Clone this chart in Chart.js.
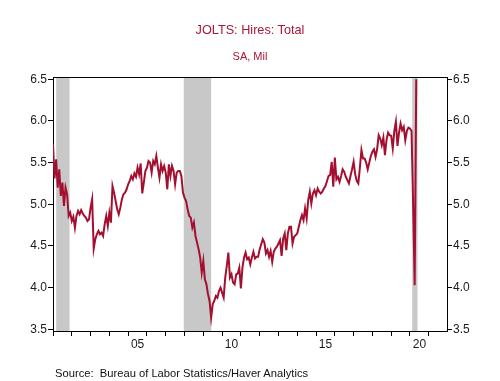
<!DOCTYPE html>
<html><head><meta charset="utf-8">
<script src="https://cdn.jsdelivr.net/npm/chart.js@4/dist/chart.umd.min.js"></script>
<style>
html,body{margin:0;padding:0;background:#fff;}
#wrap{position:relative;width:500px;height:381px;overflow:hidden;}
canvas{position:absolute;left:0;top:0;}
.t{position:absolute;font-family:"Liberation Sans",Arial,sans-serif;white-space:nowrap;}
</style></head><body>
<div id="wrap">
<canvas id="c" width="500" height="381"></canvas>
<div class="t" style="left:0;width:500px;text-align:center;top:23px;font-size:12.7px;color:#ab1636;">JOLTS: Hires: Total</div>
<div class="t" style="left:0;width:500px;text-align:center;top:50px;font-size:11px;color:#ab1636;">SA, Mil</div>
<div class="t" style="left:55px;top:367px;font-size:11.2px;color:#111;">Source:&nbsp; Bureau of Labor Statistics/Haver Analytics</div>
</div>
<script>
// Monthly values, Jan 2001 .. May 2020 (millions)
const startYear = 2001;
const hires2001 = [5.72,5.31,5.54,5.20,5.42,5.10,5.26,4.98,5.20,5.12,4.86,4.90];
const hires2002 = [4.80,4.85,4.72,4.86,4.92,4.88,4.93,4.89,4.86,4.84,4.80,4.82];
const hires2003 = [4.96,5.06,4.47,4.58,4.64,4.68,4.64,4.66,4.62,4.76,4.86,4.74];
const hires2004 = [4.90,4.78,5.22,5.14,5.04,4.94,4.88,4.96,5.06,5.12,5.14,5.18];
const hires2005 = [5.24,5.28,5.34,5.30,5.37,5.33,5.44,5.36,5.49,5.13,5.26,5.40];
const hires2006 = [5.44,5.52,5.50,5.38,5.52,5.48,5.58,5.44,5.32,5.48,5.40,5.46];
const hires2007 = [5.38,5.18,5.48,5.34,5.46,5.40,5.24,5.38,5.40,5.40,5.34,5.14];
const hires2008 = [5.08,5.04,4.94,4.86,4.84,4.72,4.78,4.62,4.54,4.46,4.36,4.18];
const hires2009 = [4.32,4.10,4.04,3.92,3.84,3.64,3.80,3.84,3.90,3.88,3.96,4.00];
const hires2010 = [3.94,3.88,4.12,4.26,4.42,4.12,4.16,4.06,4.04,4.16,4.17,4.24];
const hires2011 = [3.99,4.24,4.36,4.42,4.34,4.36,4.28,4.36,4.43,4.35,4.37,4.37];
const hires2012 = [4.46,4.52,4.58,4.54,4.41,4.45,4.37,4.44,4.31,4.43,4.47,4.49];
const hires2013 = [4.53,4.57,4.38,4.59,4.65,4.45,4.65,4.73,4.73,4.53,4.61,4.63];
const hires2014 = [4.65,4.73,4.81,4.87,4.81,4.95,4.83,5.05,5.15,5.01,5.13,5.17];
const hires2015 = [5.11,5.19,5.15,5.13,5.15,5.19,5.22,5.28,5.34,5.35,5.51,5.21];
const hires2016 = [5.56,5.30,5.33,5.27,5.34,5.42,5.39,5.33,5.29,5.25,5.34,5.42];
const hires2017 = [5.51,5.36,5.28,5.25,5.44,5.65,5.55,5.55,5.50,5.42,5.50,5.58];
const hires2018 = [5.63,5.66,5.57,5.66,5.83,5.79,5.71,5.80,5.59,5.77,5.86,5.83];
const hires2019 = [5.82,5.67,5.88,5.99,5.70,5.86,5.97,5.89,5.93,5.77,5.88,5.92];
const hires2020 = [5.91,5.88,5.00,4.03,6.50];

// Recession periods (decimal years)
const recessionStarts = [2001.17, 2007.96, 2020.12];
const recessionEnds   = [2001.88, 2009.42, 2020.40];

// Axis ticks and labels
const yTicks = [3.5, 4.0, 4.5, 5.0, 5.5, 6.0, 6.5];
const xTickYears = [2001,2002,2003,2004,2005,2006,2007,2008,2009,2010,2011,2012,2013,2014,2015,2016,2017,2018,2019,2020,2021];
const xLabelYears = [2005, 2010, 2015, 2020];
const xLabelTexts = ['05', '10', '15', '20'];

const series = [].concat(hires2001,hires2002,hires2003,hires2004,hires2005,hires2006,hires2007,
  hires2008,hires2009,hires2010,hires2011,hires2012,hires2013,hires2014,hires2015,hires2016,
  hires2017,hires2018,hires2019,hires2020);
const points = series.map((v, i) => ({x: startYear + i / 12, y: v}));

const FONT = '"Liberation Sans", Arial, sans-serif';
const AX = '#000';

const shading = {
  id: 'shading',
  beforeDatasetsDraw(chart) {
    const {ctx, chartArea, scales} = chart;
    ctx.save();
    ctx.fillStyle = '#c8c8c8';
    for (let i = 0; i < recessionStarts.length; i++) {
      const a = scales.x.getPixelForValue(recessionStarts[i]);
      const b = scales.x.getPixelForValue(recessionEnds[i]);
      ctx.fillRect(a, chartArea.top, b - a, chartArea.bottom - chartArea.top);
    }
    ctx.restore();
  }
};
const frameTop = {
  id: 'frameTop',
  afterDraw(chart) {
    const {ctx, chartArea} = chart;
    ctx.save();
    ctx.strokeStyle = AX; ctx.lineWidth = 1;
    ctx.beginPath();
    ctx.moveTo(chartArea.left, chartArea.top + 0.5);
    ctx.lineTo(chartArea.right, chartArea.top + 0.5);
    ctx.stroke();
    ctx.restore();
  }
};

const yCommon = (pos) => ({
  type: 'linear', position: pos, min: 3.4796, max: 6.5276,
  afterBuildTicks: s => { s.ticks = yTicks.map(v => ({value: v})); },
  afterFit: s => { s.width = 53; },
  grid: {drawOnChartArea: false, drawTicks: true, tickLength: 5, color: AX},
  border: {display: true, color: AX, width: 1},
  ticks: {callback: v => Number(v).toFixed(1), font: {family: FONT, size: 12}, color: '#1a1a1a', padding: 1}
});

new Chart(document.getElementById('c'), {
  type: 'line',
  data: {datasets: [{
    data: points, borderColor: '#a50f2f', borderWidth: 2, pointRadius: 0, tension: 0, fill: false
  }]},
  plugins: [shading, frameTop],
  options: {
    responsive: false, animation: false, devicePixelRatio: 1,
    layout: {padding: {top: 77, left: 0, right: 0, bottom: 0}},
    plugins: {legend: {display: false}, tooltip: {enabled: false}, title: {display: false}},
    scales: {
      x: {
        type: 'linear', position: 'bottom', min: 2001, max: 2021.97,
        afterBuildTicks: s => { s.ticks = xTickYears.map(v => ({value: v})); },
        afterFit: s => { s.height = 50; },
        grid: {drawOnChartArea: false, drawTicks: true, tickLength: 5, color: AX},
        border: {display: true, color: AX, width: 1},
        ticks: {
          autoSkip: false, maxRotation: 0, minRotation: 0, labelOffset: 9.4, padding: 1,
          font: {family: FONT, size: 12}, color: '#1a1a1a',
          callback: v => { const k = xLabelYears.indexOf(v); return k >= 0 ? xLabelTexts[k] : ''; }
        }
      },
      y: yCommon('left'),
      y2: yCommon('right')
    }
  }
});
</script>
</body></html>
